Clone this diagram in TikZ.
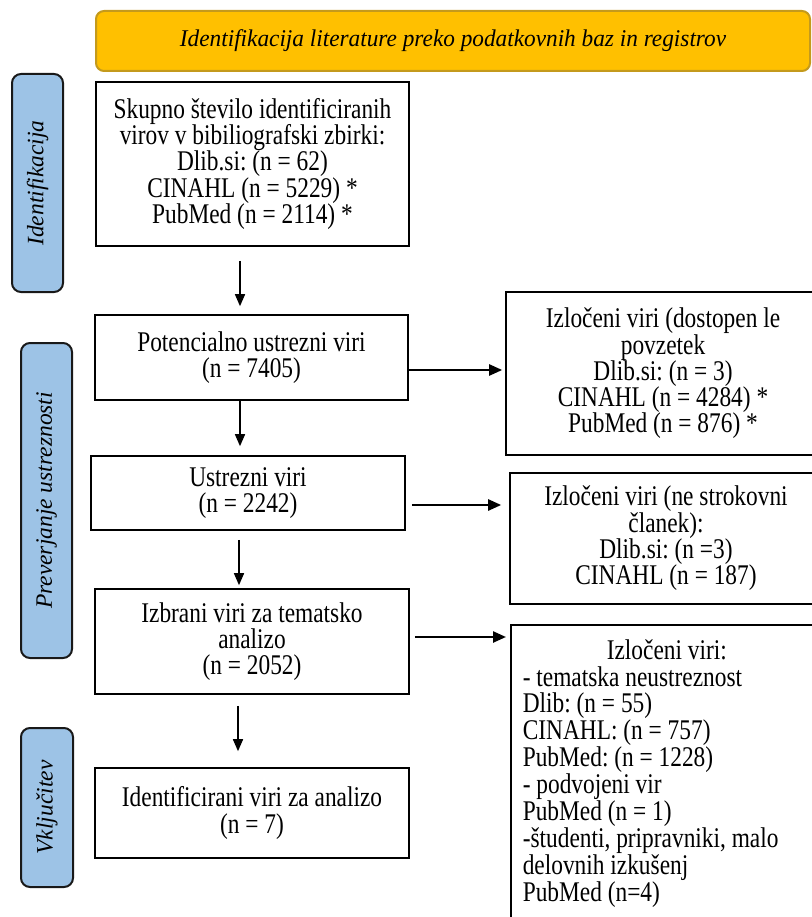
\documentclass[tikz,border=0pt]{standalone}
\usepackage{fontspec}
\setmainfont{Liberation Serif}
\newfontfamily\boxfont{Liberation Serif}[FakeStretch=0.82]
\newfontfamily\banfont{Liberation Serif}[FakeStretch=0.97]
\usetikzlibrary{arrows.meta}
\definecolor{bannerfill}{HTML}{FFC000}
\definecolor{bannerdraw}{HTML}{C49A1C}
\definecolor{labfill}{HTML}{9DC3E6}
\begin{document}
\begin{tikzpicture}[x=1pt,y=-1pt,
  txt/.style={font=\boxfont\fontsize{28.5}{26.3}\selectfont\frenchspacing},
  box/.style={txt, draw=black, line width=1.6pt, fill=white, inner sep=0pt, align=flush center},
  lab/.style={draw=black!90, line width=2pt, fill=labfill, rounded corners=9pt, inner sep=0pt,
    rotate=90, font=\fontsize{23.5}{27}\selectfont\itshape},
  varr/.style={-{Triangle[length=12pt,width=10pt]}, line width=1.5pt},
  harr/.style={-{Triangle[length=13pt,width=11pt]}, line width=2.4pt}]
\useasboundingbox (0,0) rectangle (811,917);

% banner
\node[draw=bannerdraw, fill=bannerfill, line width=2pt, rounded corners=8pt,
  minimum width=714pt, minimum height=60pt, inner sep=0pt,
  font=\banfont\fontsize{24}{27}\selectfont\itshape] (ban) at (453,41)
  {Identifikacija literature preko podatkovnih baz in registrov};

% side labels
\node[lab, minimum width=218pt, minimum height=51pt] (l1) at (37.5,183) {Identifikacija};
\node[lab, minimum width=315pt, minimum height=51pt] (l2) at (46.5,500.5) {Preverjanje ustreznosti};
\node[lab, minimum width=159pt, minimum height=52pt] (l3) at (47,807.5) {Vključitev};

% main column
\node[box, minimum width=313pt, minimum height=164pt, text width=303pt] (b1) at (252.5,164)
  {Skupno število identificiranih\\virov v bibiliografski zbirki:\\Dlib.si: (n = 62)\\CINAHL (n = 5229) *\\PubMed (n = 2114) *};
\node[box, minimum width=313pt, minimum height=85pt, text width=303pt] (b2) at (251.5,357.5)
  {Potencialno ustrezni viri\\(n = 7405)};
\node[box, minimum width=314pt, minimum height=74pt, text width=304pt] (b3) at (248,493)
  {Ustrezni viri\\(n = 2242)};
\node[box, minimum width=314pt, minimum height=105pt, text width=304pt] (b4) at (252,641.5)
  {Izbrani viri za tematsko\\analizo\\(n = 2052)};
\node[box, minimum width=314pt, minimum height=90pt, text width=304pt] (b5) at (252,813)
  {Identificirani viri za analizo\\(n = 7)};

% right column
\node[box, minimum width=314pt, minimum height=163pt, text width=304pt] (bA) at (663,373.5)
  {Izločeni viri (dostopen le\\povzetek\\Dlib.si: (n = 3)\\CINAHL (n = 4284) *\\PubMed (n = 876) *};
\node[box, minimum width=312pt, minimum height=131pt, text width=302pt] (bB) at (666,538.5)
  {Izločeni viri (ne strokovni\\članek):\\Dlib.si: (n =3)\\CINAHL (n = 187)};
\node[txt, draw=black, line width=1.6pt, fill=white, anchor=north west, inner xsep=12pt, inner ysep=14.5pt] (bC) at (510,624)
  {\begin{minipage}[t][300pt][t]{288pt}\fontsize{28.5}{26.9}\selectfont\frenchspacing
   {\centering Izločeni viri:\par}
   \raggedright
   - tematska neustreznost\\Dlib: (n = 55)\\CINAHL: (n = 757)\\PubMed: (n = 1228)\\- podvojeni vir\\PubMed (n = 1)\\-študenti, pripravniki, malo\\delovnih izkušenj\\PubMed (n=4)\par
   \end{minipage}};

% vertical arrows
\draw[varr, shorten <=14pt, shorten >=8pt] ([xshift=-12.5pt]b1.south) -- ([xshift=-12.5pt]b1.south |- b2.north);
\draw[varr, shorten >=9pt] ([xshift=-11.5pt]b2.south) -- ([xshift=-11.5pt]b2.south |- b3.north);
\draw[varr, shorten <=9pt, shorten >=3pt] ([xshift=-9pt]b3.south) -- ([xshift=-9pt]b3.south |- b4.north);
\draw[varr, shorten <=11pt, shorten >=16pt] ([xshift=-14pt]b4.south) -- ([xshift=-14pt]b4.south |- b5.north);

% horizontal arrows
\draw[harr, shorten >=3pt] ([yshift=-12.5pt]b2.east) -- ([yshift=-12.5pt]b2.east -| bA.west);
\draw[harr, shorten <=6pt, shorten >=8pt] ([yshift=-12pt]b3.east) -- ([yshift=-12pt]b3.east -| bB.west);
\draw[harr, shorten <=5pt, shorten >=4pt] ([yshift=4.5pt]b4.east) -- ([yshift=4.5pt]b4.east -| bC.west);
\end{tikzpicture}
\end{document}
